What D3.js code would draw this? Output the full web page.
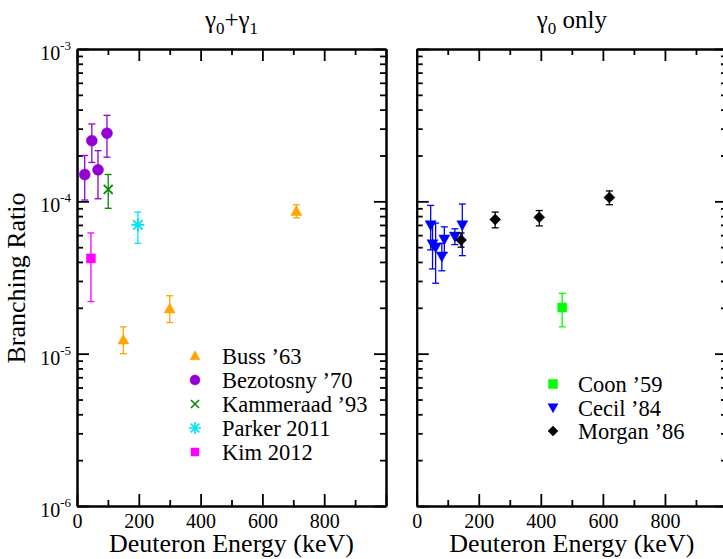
<!DOCTYPE html>
<html>
<head>
<meta charset="utf-8">
<script src="https://cdn.jsdelivr.net/npm/d3@7"></script>
<style>
  body { margin: 0; background: #fff; }
  svg, text { font-family: "Liberation Serif", "Times New Roman", Times, serif; fill: #000; }
</style>
</head>
<body>
<div id="chart"></div>
<script>
'use strict';

// ---- data: deuteron energy (keV), branching ratio, error bar low / high ----
// gamma0 + gamma1 panel
let buss = [
    {e: 150, r: 1.23e-5, lo: 1.0e-5, hi: 1.5e-5},
    {e: 300, r: 1.97e-5, lo: 1.6e-5, hi: 2.4e-5},
    {e: 710, r: 8.6e-5, lo: 7.8e-5, hi: 9.5e-5}
];
let bezotosny = [
    {e: 25, r: 1.5e-4, lo: 1.02e-4, hi: 2.0e-4},
    {e: 48, r: 2.5e-4, lo: 1.8e-4, hi: 3.22e-4},
    {e: 68, r: 1.61e-4, lo: 1.04e-4, hi: 2.15e-4},
    {e: 97, r: 2.8e-4, lo: 1.95e-4, hi: 3.67e-4}
];
let kammeraad = [{e: 101, r: 1.2e-4, lo: 0.9e-4, hi: 1.5e-4}];
let parker = [{e: 197, r: 7.0e-5, lo: 5.3e-5, hi: 8.5e-5}];
let kim = [{e: 45, r: 4.22e-5, lo: 2.2e-5, hi: 6.2e-5}];

// gamma0 only panel
let coon = [{e: 469, r: 2.01e-5, lo: 1.5e-5, hi: 2.49e-5}];
let cecil = [
    {e: 45, r: 7.0e-5, lo: 4.8e-5, hi: 9.4e-5},
    {e: 51, r: 5.25e-5, lo: 3.6e-5, hi: 7.1e-5},
    {e: 61, r: 5.0e-5, lo: 2.9e-5, hi: 7.2e-5},
    {e: 81, r: 4.37e-5, lo: 3.5e-5, hi: 5.3e-5},
    {e: 89, r: 5.65e-5, lo: 4.6e-5, hi: 6.8e-5},
    {e: 123, r: 5.9e-5, lo: 5.2e-5, hi: 6.6e-5},
    {e: 147, r: 7.0e-5, lo: 4.4e-5, hi: 9.6e-5}
];
let morgan = [
    {e: 143, r: 5.57e-5, lo: 5.0e-5, hi: 6.2e-5},
    {e: 253, r: 7.6e-5, lo: 6.7e-5, hi: 8.5e-5},
    {e: 395, r: 7.85e-5, lo: 6.9e-5, hi: 8.7e-5},
    {e: 621, r: 1.06e-4, lo: 9.5e-5, hi: 1.17e-4}
];

// axis ticks
let xMajor = [0, 200, 400, 600, 800, 1000];
let xMinor = [100, 300, 500, 700, 900];
let yDecades = [-3, -4, -5, -6];

const SERIF = '"Liberation Serif", "Times New Roman", Times, serif';

// marker shapes (s = half size)
function markerPath(type, s) {
    let p = d3.path();
    if (type === 'circle') {
        p.arc(0, 0, s, 0, 2 * Math.PI);
    } else if (type === 'square') {
        p.rect(-s, -s, 2 * s, 2 * s);
    } else if (type === 'up') {
        p.moveTo(0, -s * 1.05); p.lineTo(s, s * 0.75); p.lineTo(-s, s * 0.75); p.closePath();
    } else if (type === 'down') {
        p.moveTo(0, s * 1.05); p.lineTo(s, -s * 0.75); p.lineTo(-s, -s * 0.75); p.closePath();
    } else if (type === 'diamond') {
        p.moveTo(0, -s); p.lineTo(s, 0); p.lineTo(0, s); p.lineTo(-s, 0); p.closePath();
    } else if (type === 'x') {
        p.moveTo(-s, -s); p.lineTo(s, s); p.moveTo(s, -s); p.lineTo(-s, s);
    } else if (type === 'star') {
        let d = s * 0.72;
        p.moveTo(-s, 0); p.lineTo(s, 0); p.moveTo(0, -s); p.lineTo(0, s);
        p.moveTo(-d, -d); p.lineTo(d, d); p.moveTo(d, -d); p.lineTo(-d, d);
    }
    return p.toString();
}
let lineMarkers = ['x', 'star'];

class Panel {
    /*
     - svg: d3 selection
     - box: [left, right, top, bottom] of the plot frame in pixels
     */
    #scaleX;
    #scaleY;

    constructor(svg, box) {
        this.svg = svg;
        this.box = box;
        this.g = svg.append('g');
        this.#scaleX = d3.scaleLinear().domain([0, 1000]).range([box[0], box[1]]);
        this.#scaleY = d3.scaleLog().domain([1e-6, 1e-3]).range([box[3], box[2]]);
    }

    frame(yLabels) {
        let x = this.#scaleX, y = this.#scaleY;
        let [l, r, t, b] = this.box;

        let yMinor = [];
        [-6, -5, -4].forEach(n => { for (let k = 2; k <= 9; k++) yMinor.push(k * Math.pow(10, n)); });
        let yMajor = yDecades.map(n => Math.pow(10, n));

        // bottom axis with labels
        this.g.append('g').attr('transform', `translate(0,${b})`)
            .call(d3.axisBottom(x).tickValues(xMajor).tickSize(-12).tickSizeOuter(0).tickPadding(8)
                .tickFormat(d => d < 1000 ? d : ''));
        this.g.append('g').attr('transform', `translate(0,${b})`)
            .call(d3.axisBottom(x).tickValues(xMinor).tickSize(-6).tickSizeOuter(0).tickFormat(''));
        // top axis
        this.g.append('g').attr('transform', `translate(0,${t})`)
            .call(d3.axisTop(x).tickValues(xMajor).tickSize(-12).tickSizeOuter(0).tickFormat(''));
        this.g.append('g').attr('transform', `translate(0,${t})`)
            .call(d3.axisTop(x).tickValues(xMinor).tickSize(-6).tickSizeOuter(0).tickFormat(''));
        // left axis
        this.g.append('g').attr('transform', `translate(${l},0)`)
            .call(d3.axisLeft(y).tickValues(yMajor).tickSize(-12).tickSizeOuter(0).tickFormat(''));
        this.g.append('g').attr('transform', `translate(${l},0)`)
            .call(d3.axisLeft(y).tickValues(yMinor).tickSize(-6).tickSizeOuter(0).tickFormat(''));
        // right axis
        this.g.append('g').attr('transform', `translate(${r},0)`)
            .call(d3.axisRight(y).tickValues(yMajor).tickSize(-12).tickSizeOuter(0).tickFormat(''));
        this.g.append('g').attr('transform', `translate(${r},0)`)
            .call(d3.axisRight(y).tickValues(yMinor).tickSize(-6).tickSizeOuter(0).tickFormat(''));

        this.g.selectAll('g').attr('font-family', SERIF);
        this.g.selectAll('.domain').attr('stroke', '#000').attr('stroke-width', 2);
        this.g.selectAll('.tick line').attr('stroke', '#000').attr('stroke-width', 1.8);
        this.g.selectAll('.tick text')
            .style('font-family', SERIF)
            .style('font-size', '20px').attr('fill', '#000');

        // log labels 10^n
        if (yLabels) {
            let lab = this.g.selectAll('text.ylab').data(yDecades).join('text')
                .classed('ylab', true)
                .attr('x', l - 6)
                .attr('y', d => y(Math.pow(10, d)) + 11)
                .attr('text-anchor', 'end')
                .style('font-family', SERIF)
                .style('font-size', '20px');
            lab.append('tspan').text('10');
            lab.append('tspan').attr('dy', -10).style('font-size', '13px').text(d => '-' + (-d));
        }

        // x title
        this.g.append('text')
            .attr('x', (l + r) / 2).attr('y', 552)
            .attr('text-anchor', 'middle')
            .style('font-family', SERIF)
            .style('font-size', '26px')
            .text('Deuteron Energy (keV)');
    }

    title(parts) {
        let [l, r] = this.box;
        let txt = this.g.append('text')
            .attr('x', (l + r) / 2).attr('y', 28)
            .attr('text-anchor', 'middle')
            .style('font-family', SERIF)
            .style('font-size', '25px');
        parts.forEach(p => {
            let ts = txt.append('tspan').text(p.t);
            if (p.sub) ts.attr('dy', 6).style('font-size', '17px');
            if (p.back) ts.attr('dy', -6);
        });
    }

    series(data, type, color, size) {
        let x = this.#scaleX, y = this.#scaleY;
        let g = this.g.append('g');
        let cap = 3.5;

        // error bars
        let eb = g.selectAll('g.err').data(data).join('g').classed('err', true)
            .attr('stroke', color).attr('stroke-width', 1.3).attr('fill', 'none');
        eb.append('line')
            .attr('x1', d => x(d.e)).attr('x2', d => x(d.e))
            .attr('y1', d => y(d.lo)).attr('y2', d => y(d.hi));
        eb.append('line')
            .attr('x1', d => x(d.e) - cap).attr('x2', d => x(d.e) + cap)
            .attr('y1', d => y(d.lo)).attr('y2', d => y(d.lo));
        eb.append('line')
            .attr('x1', d => x(d.e) - cap).attr('x2', d => x(d.e) + cap)
            .attr('y1', d => y(d.hi)).attr('y2', d => y(d.hi));

        // markers
        let isLine = lineMarkers.includes(type);
        g.selectAll('path.mark').data(data).join('path').classed('mark', true)
            .attr('transform', d => `translate(${x(d.e)},${y(d.r)})`)
            .attr('d', markerPath(type, size))
            .attr('fill', isLine ? 'none' : color)
            .attr('stroke', color)
            .attr('stroke-width', isLine ? 1.8 : 0.5);
    }

    legend(items, mx, ty, step, gap) {
        let g = this.g.append('g');
        let rows = g.selectAll('g.leg').data(items).join('g').classed('leg', true)
            .attr('transform', (d, i) => `translate(${mx},${ty + i * step})`);
        rows.append('path')
            .attr('d', d => markerPath(d.type, d.size))
            .attr('fill', d => lineMarkers.includes(d.type) ? 'none' : d.color)
            .attr('stroke', d => d.color)
            .attr('stroke-width', d => lineMarkers.includes(d.type) ? 1.6 : 0.5);
        rows.append('text')
            .attr('x', gap).attr('y', 8)
            .style('font-family', SERIF)
            .style('font-size', '22.5px')
            .text(d => d.label);
    }
}

let svg = d3.select('#chart').append('svg')
    .attr('width', 723).attr('height', 559)
    .attr('font-family', SERIF);

// y title
svg.append('text')
    .attr('transform', 'translate(25,278) rotate(-90)')
    .attr('text-anchor', 'middle')
    .style('font-family', SERIF)
    .style('font-size', '26px')
    .text('Branching Ratio');

// left panel
let left = new Panel(svg, [77, 386, 49, 506]);
left.frame(true);
left.title([{t: 'γ'}, {t: '0', sub: true}, {t: '+γ', back: true}, {t: '1', sub: true}]);
left.series(bezotosny, 'circle', '#9400d3', 5.5);
left.series(kammeraad, 'x', '#008b00', 4.5);
left.series(parker, 'star', '#00e5ee', 6.5);
left.series(kim, 'square', '#ff00ff', 4.5);
left.series(buss, 'up', '#ffa500', 5.5);
left.legend([
    {label: 'Buss \u201963', type: 'up', color: '#ffa500', size: 5},
    {label: 'Bezotosny \u201970', type: 'circle', color: '#9400d3', size: 5},
    {label: 'Kammeraad \u201993', type: 'x', color: '#008b00', size: 4},
    {label: 'Parker 2011', type: 'star', color: '#00e5ee', size: 6},
    {label: 'Kim 2012', type: 'square', color: '#ff00ff', size: 4}
], 195, 356, 24, 27);

// right panel
let right = new Panel(svg, [416.7, 727, 49, 506]);
right.frame(false);
right.title([{t: 'γ'}, {t: '0', sub: true}, {t: ' only', back: true}]);
right.series(coon, 'square', '#00ff00', 4.5);
right.series(cecil, 'down', '#0000ff', 5.5);
right.series(morgan, 'diamond', '#000000', 5.5);
right.legend([
    {label: 'Coon \u201959', type: 'square', color: '#00ff00', size: 4.5},
    {label: 'Cecil \u201984', type: 'down', color: '#0000ff', size: 5},
    {label: 'Morgan \u201986', type: 'diamond', color: '#000000', size: 5}
], 553, 384, 23.5, 25);
</script>
</body>
</html>
